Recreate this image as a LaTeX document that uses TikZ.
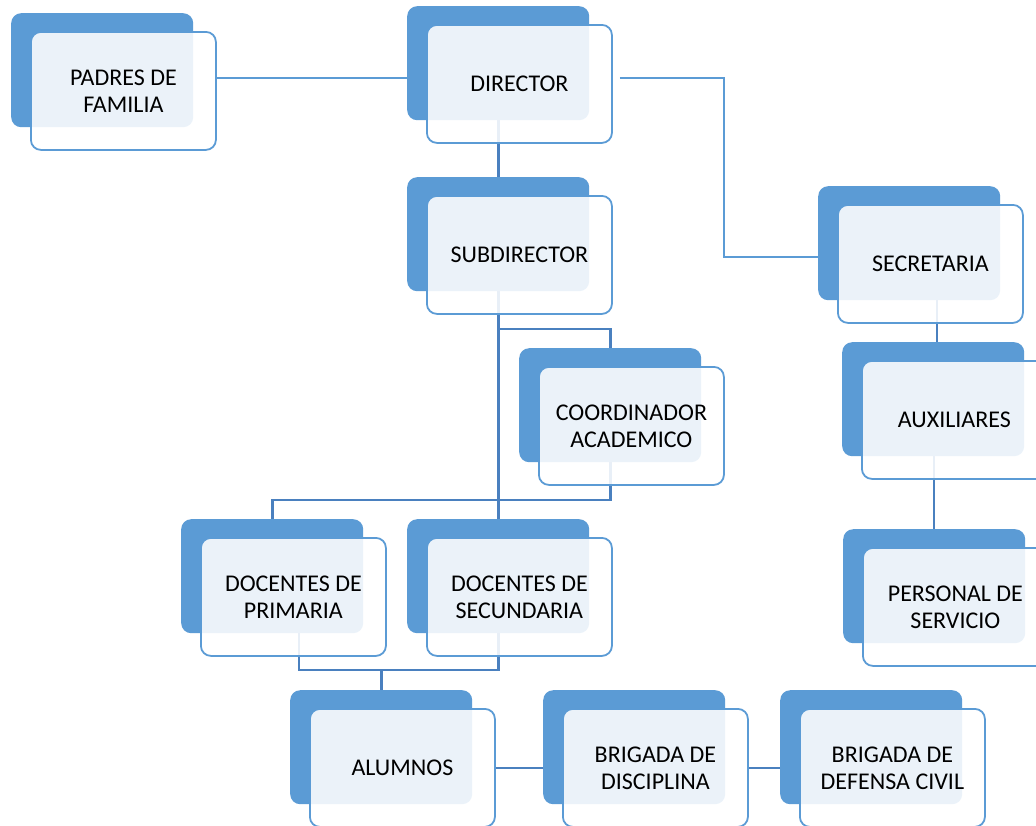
\documentclass[tikz,border=0pt]{standalone}
\usepackage{fontspec}
\setmainfont{Carlito}
\usetikzlibrary{calc}
\definecolor{boxblue}{HTML}{5B9BD5}
\definecolor{linkblue}{HTML}{4A80BF}
\pgfdeclarelayer{paper}
\pgfdeclarelayer{bg}
\pgfsetlayers{paper,bg,main}
\newcommand\orgbox[4]{%
  \node[backbox] (#1B) at (#2,#3) {};
  \node[frontbox] (#1) at (#2+19,#3+18) {#4};}
\begin{document}
\begin{tikzpicture}[x=1pt,y=-1pt,
  backbox/.style={fill=boxblue, rounded corners=10pt, minimum width=182pt,
    minimum height=114pt, inner sep=0pt, anchor=north west},
  frontbox/.style={draw=boxblue, line width=1.8pt, fill=white, fill opacity=0.88,
    text opacity=1, rounded corners=10pt, minimum width=185pt, minimum height=118pt,
    inner sep=0pt, anchor=north west, align=center,
    font=\fontsize{24}{27}\selectfont},
  thinlink/.style={draw=boxblue, line width=1.4pt},
  thicklink/.style={draw=linkblue, line width=2.8pt},
  midlink/.style={draw=linkblue, line width=2pt}]
\useasboundingbox (0,0) rectangle (1036,825);
\begin{pgfonlayer}{paper}
  \fill[white] (0,0) rectangle (1036,825);
\end{pgfonlayer}
\clip (0,0) rectangle (1036,825);

\orgbox{padres}{11}{13}{PADRES DE\\FAMILIA}
\orgbox{dir}{407}{6}{DIRECTOR}
\orgbox{sub}{407}{177}{SUBDIRECTOR}
\orgbox{sec}{818}{186}{SECRETARIA}
\orgbox{coord}{519}{348}{COORDINADOR\\ACADEMICO}
\orgbox{aux}{842}{342}{AUXILIARES}
\orgbox{pers}{843}{529}{PERSONAL DE\\SERVICIO}
\orgbox{prim}{181}{519}{DOCENTES DE\\PRIMARIA}
\orgbox{secu}{407}{519}{DOCENTES DE\\SECUNDARIA}
\orgbox{alu}{290}{690}{ALUMNOS}
\orgbox{disc}{543}{690}{BRIGADA DE\\DISCIPLINA}
\orgbox{def}{780}{690}{BRIGADA DE\\DEFENSA CIVIL}

\begin{pgfonlayer}{bg}
  % Director links
  \draw[thinlink] (padres.east |- 0,78) -- (dirB.west |- 0,78);
  \draw[thinlink] ($(dir.east |- 0,78)+(7,0)$) -- (724,78) -- (724,257) -- (secB.west |- 0,257);
  \draw[thicklink] (dirB.south) -- (subB.north);
  % Subdirector links
  \draw[thicklink] (subB.south) -- (secuB.north);
  \draw[thicklink] (subB.south |- 0,329) -| (coordB.north);
  \draw[thicklink] (coordB.south) -- (coordB.south |- 0,500) -| (primB.north);
  % Docentes to alumnos
  \draw[thicklink] (primB.south -| 299,0) -- (299,670) -| (aluB.north);
  \draw[thicklink] (secuB.south) -- (secuB.south |- 0,670) -- (aluB.north |- 0,670);
  % Alumnos row
  \draw[midlink] (alu.east) -- (discB.west |- alu.east);
  \draw[midlink] (disc.east) -- (defB.west |- disc.east);
  % Secretaria column
  \draw[midlink] (secB.south -| 937,0) -- (auxB.north -| 937,0);
  \draw[midlink] (auxB.south -| 934,0) -- (persB.north -| 934,0);
\end{pgfonlayer}
\end{tikzpicture}
\end{document}
